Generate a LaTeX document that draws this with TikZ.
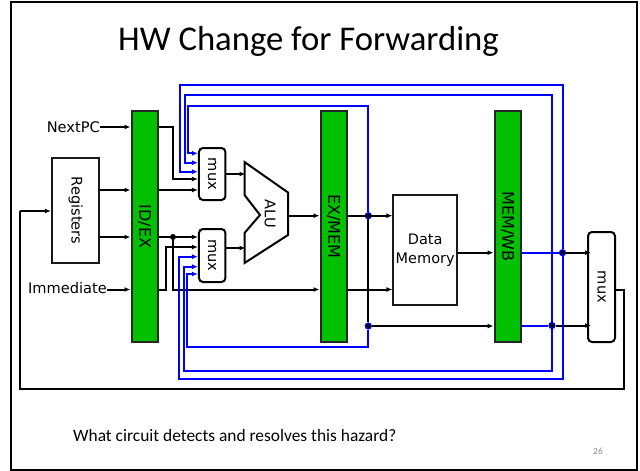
\documentclass[tikz,border=0pt]{standalone}
\usepackage{fontspec}
\setmainfont{Carlito}
\newfontfamily\labelfont{DejaVu Sans}
\usetikzlibrary{arrows.meta}
\definecolor{latchgreen}{RGB}{0,192,0}
\definecolor{fwdblue}{RGB}{0,0,255}
\tikzset{
  latch/.style={draw=black!85, line width=2pt, fill=latchgreen, minimum width=26pt, minimum height=231pt, inner sep=0pt},
  unit/.style={draw=black!90, line width=2pt, fill=white, inner sep=0pt},
  muxbox/.style={draw=black, line width=2pt, fill=white, rounded corners=4pt, inner sep=0pt},
  lbl/.style={font=\labelfont\fontsize{14.6}{18}\selectfont},
  side/.style={lbl, rotate=-90},
  latchlbl/.style={font=\labelfont\fontsize{16}{18}\selectfont, rotate=-90},
  wire/.style={draw=black, line width=2pt, -{Latex[length=6pt,width=5pt]}},
  plain/.style={draw=black, line width=2pt},
  fwd/.style={draw=fwdblue, line width=2pt},
  fwdin/.style={fwd, -{Latex[length=6pt,width=5pt]}},
  dot/.style={circle, fill=black, inner sep=0pt, minimum size=6pt},
  bdot/.style={circle, fill=black, draw=fwdblue, line width=1.2pt, inner sep=0pt, minimum size=6pt}
}
\begin{document}
\begin{tikzpicture}[x=1pt, y=-1pt]
\useasboundingbox (0,0) rectangle (640,471);
\draw [line width=2pt] (11,2) rectangle (637,470);

\node (title) at (308.5,41) {\fontsize{34.7}{40}\selectfont HW Change for Forwarding};

% stages
\node [latch] (idex) at (144.5,226.5) {};
\node [latchlbl] at (idex) {ID/EX};
\node [latch] (exmem) at (333.5,226.5) {};
\node [latchlbl] at (exmem) {EX/MEM};
\node [latch] (memwb) at (507.5,226.5) {};
\node [latchlbl] at (memwb) {MEM/WB};

\node [unit, minimum width=47.5pt, minimum height=105pt] (regs) at (75.7,210.5) {};
\node [side] at (regs) {Registers};
\node [unit, minimum width=63.5pt, minimum height=110pt, align=center, lbl, font=\labelfont\fontsize{14.5}{19}\selectfont] (dmem) at (425.2,250) {Data\\Memory};
\node [muxbox, minimum width=26.5pt, minimum height=52pt] (muxa) at (212.2,174) {};
\node [side] at (muxa) {mux};
\node [muxbox, minimum width=26.5pt, minimum height=53pt] (muxb) at (212.2,255.5) {};
\node [side] at (muxb) {mux};
\node [muxbox, minimum width=27pt, minimum height=110pt] (muxc) at (601.5,287) {};
\node [side] at (muxc) {mux};

\draw [line width=2pt, fill=white] (244.5,162) -- (288,192.5) -- (288,235) -- (244.5,263) -- (244.5,233) -- (260,215) -- (244.5,195) -- cycle;
\node [side] (alu) at (270,214) {ALU};
\coordinate (aluout) at (288,215.7);

\node [lbl, anchor=east, inner sep=0pt] (nextpc) at (100,127) {NextPC};
\node [lbl, anchor=east, inner sep=0pt] (imm) at (107,288.5) {Immediate};

% black wires
\coordinate (immy) at (0,289.5);
\coordinate (wby) at (0,252.7);
\draw [wire] (nextpc) -- (idex.west |- nextpc);
\draw [wire] (regs.east |- 0,190) -- (idex.west |- 0,190);
\draw [wire] (regs.east |- 0,237) -- (idex.west |- 0,237);
\draw [wire] (imm.east |- immy) -- (idex.west |- immy);
\draw [wire] (idex.east |- nextpc) -| (173,179) -- (muxa.west |- 0,179);
\draw [wire] (idex.east |- 0,190) -- (muxa.west |- 0,190);
\node [dot] (fork) at (173,237) {};
\draw [wire] (idex.east |- fork) -- (muxb.west |- fork);
\draw [wire] (fork) |- (exmem.west |- immy);
\draw [wire] (idex.east |- immy) -| (165.5,247) -- (muxb.west |- 0,247);
\draw [wire] (muxa.east) -- (245.5,174);
\draw [wire] (muxb.east |- 0,248) -- (245.5,248);
\draw [wire] (aluout) -- (exmem.west |- aluout);

\node [bdot] (exfork) at (368.3,215.7) {};
\node [bdot] (exdown) at (368.3,326) {};
\node [bdot] (wbup) at (562.5,252.7) {};
\node [bdot] (wbdown) at (552,325.5) {};
\draw [wire] (exmem.east |- aluout) -- (dmem.west |- aluout);
\draw [plain] (exfork) -- (exdown);
\draw [wire] (exmem.east |- immy) -- (dmem.west |- immy);
\draw [wire] (exdown) -- (memwb.west |- exdown);
\draw [wire] (dmem.east |- wby) -- (memwb.west |- wby);
\draw [wire, shorten >=-4pt] (wbup) -- (muxc.west |- wbup);
\draw [wire, shorten >=-4pt] (wbdown) -- (muxc.west |- wbdown);
\draw [plain] (muxc.east |- immy) -| (624,389) -| (20,211);
\draw [wire] (20,211) -- (regs.west |- 0,211);

% forwarding paths
\draw [fwd] (memwb.east |- wbup) -- (wbup);
\draw [fwd] (memwb.east |- wbdown) -- (wbdown);
\draw [fwdin] (wbup) |- (179.5,85) |- (muxa.west |- 0,171.7);
\draw [fwdin] (wbdown) |- (184.5,95) |- (muxa.west |- 0,162.7);
\draw [fwdin] (exfork) |- (187.7,105.7) |- (muxa.west |- 0,153.3);
\draw [fwdin] (wbup) |- (178.5,378.7) |- (muxb.west |- 0,256.7);
\draw [fwdin] (wbdown) |- (183.5,370.7) |- (muxb.west |- 0,266.7);
\draw [fwdin] (exdown) |- (187,346.7) |- (muxb.west |- 0,274);

\node [anchor=west, inner sep=0pt] (question) at (73,435.5) {\fontsize{17.4}{20}\selectfont What circuit detects and resolves this hazard?};
\node [text=black!45, inner sep=0pt] (pagenum) at (598,451.5) {\fontsize{9.5}{11}\selectfont 26};
\end{tikzpicture}
\end{document}
